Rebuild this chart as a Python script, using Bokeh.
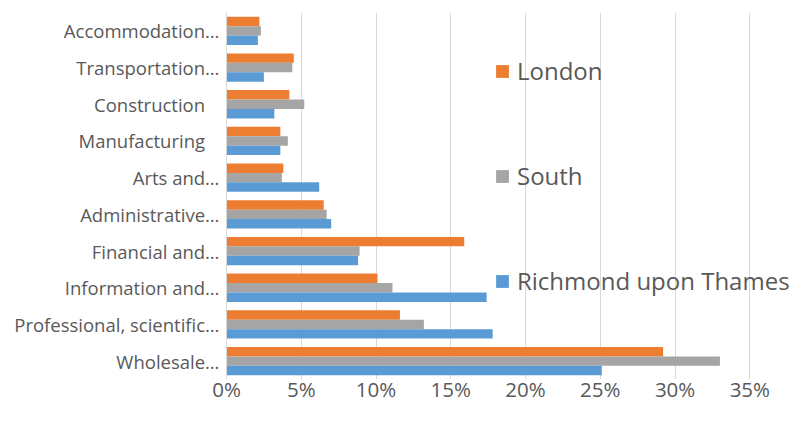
from bokeh.plotting import figure
from bokeh.models import FactorRange, Range1d, Legend, LegendItem, FixedTicker, PrintfTickFormatter, ColumnDataSource
from bokeh.transform import dodge
from bokeh.embed import file_html
from bokeh.resources import INLINE

categories = ["Wholesale…", "Professional, scientific…", "Information and…", "Financial and…",
              "Administrative…", "Arts and…", "Manufacturing   ", "Construction   ",
              "Transportation…", "Accommodation…"]
london = [29.2, 11.6, 10.1, 15.9, 6.5, 3.8, 3.6, 4.2, 4.5, 2.2]
south = [33.0, 13.2, 11.1, 8.9, 6.7, 3.7, 4.1, 5.2, 4.4, 2.3]
richmond = [25.1, 17.8, 17.4, 8.8, 7.0, 6.2, 3.6, 3.2, 2.5, 2.1]
series_names = ["London", "South", "Richmond upon Thames"]
x_ticks = [0, 5, 10, 15, 20, 25, 30, 35]

colors = ["#ED7D31", "#A5A5A5", "#5B9BD5"]
text_color = "#595959"
grid_color = "#D9D9D9"
FONT = "Open Sans"

source = ColumnDataSource(dict(cat=categories, london=london, south=south, richmond=richmond))

p = figure(width=793, height=405, output_backend="svg", toolbar_location=None,
           y_range=FactorRange(factors=categories), x_range=Range1d(0, 37.92),
           min_border_left=226, min_border_right=0, min_border_top=12, min_border_bottom=0)
p.outline_line_color = None

bh = 0.257
r1 = p.hbar(y=dodge("cat", bh, range=p.y_range), left=0, right="london", height=bh,
            source=source, fill_color=colors[0], line_color=None)
r2 = p.hbar(y=dodge("cat", 0, range=p.y_range), left=0, right="south", height=bh,
            source=source, fill_color=colors[1], line_color=None)
r3 = p.hbar(y=dodge("cat", -bh, range=p.y_range), left=0, right="richmond", height=bh,
            source=source, fill_color=colors[2], line_color=None)

p.xaxis.ticker = FixedTicker(ticks=x_ticks)
p.xaxis.formatter = PrintfTickFormatter(format="%d%%")
p.xaxis.axis_line_color = None
p.xaxis.major_tick_line_color = None
p.xaxis.minor_tick_line_color = None
p.xaxis.major_tick_out = 0
p.xaxis.major_tick_in = 0
p.xaxis.minor_tick_out = 0
p.xaxis.axis_label_standoff = 0
p.xaxis.major_label_text_font = FONT
p.xaxis.major_label_text_font_size = "20.5px"
p.xaxis.major_label_text_color = text_color
p.xaxis.major_label_text_line_height = 1.0
p.xaxis.major_label_standoff = -5

p.yaxis.axis_line_color = grid_color
p.yaxis.major_tick_line_color = None
p.yaxis.minor_tick_line_color = None
p.yaxis.major_tick_out = 0
p.yaxis.minor_tick_out = 0
p.yaxis.major_label_text_font = FONT
p.yaxis.major_label_text_font_size = "18.5px"
p.yaxis.major_label_text_color = text_color
p.yaxis.major_label_standoff = 7

p.ygrid.grid_line_color = None
p.xgrid.grid_line_color = grid_color
p.xgrid.grid_line_width = 1

legend = Legend(items=[LegendItem(label=series_names[0], renderers=[r1]),
                       LegendItem(label=series_names[1], renderers=[r2]),
                       LegendItem(label=series_names[2], renderers=[r3])],
                location=(268, 82), orientation="vertical",
                border_line_color=None, background_fill_alpha=0,
                padding=0, margin=0, glyph_width=16, glyph_height=16,
                label_standoff=7, spacing=72,
                label_text_font=FONT, label_text_font_size="24px",
                label_text_color=text_color)
p.add_layout(legend)

open("out.html", "w").write(file_html(p, INLINE))
